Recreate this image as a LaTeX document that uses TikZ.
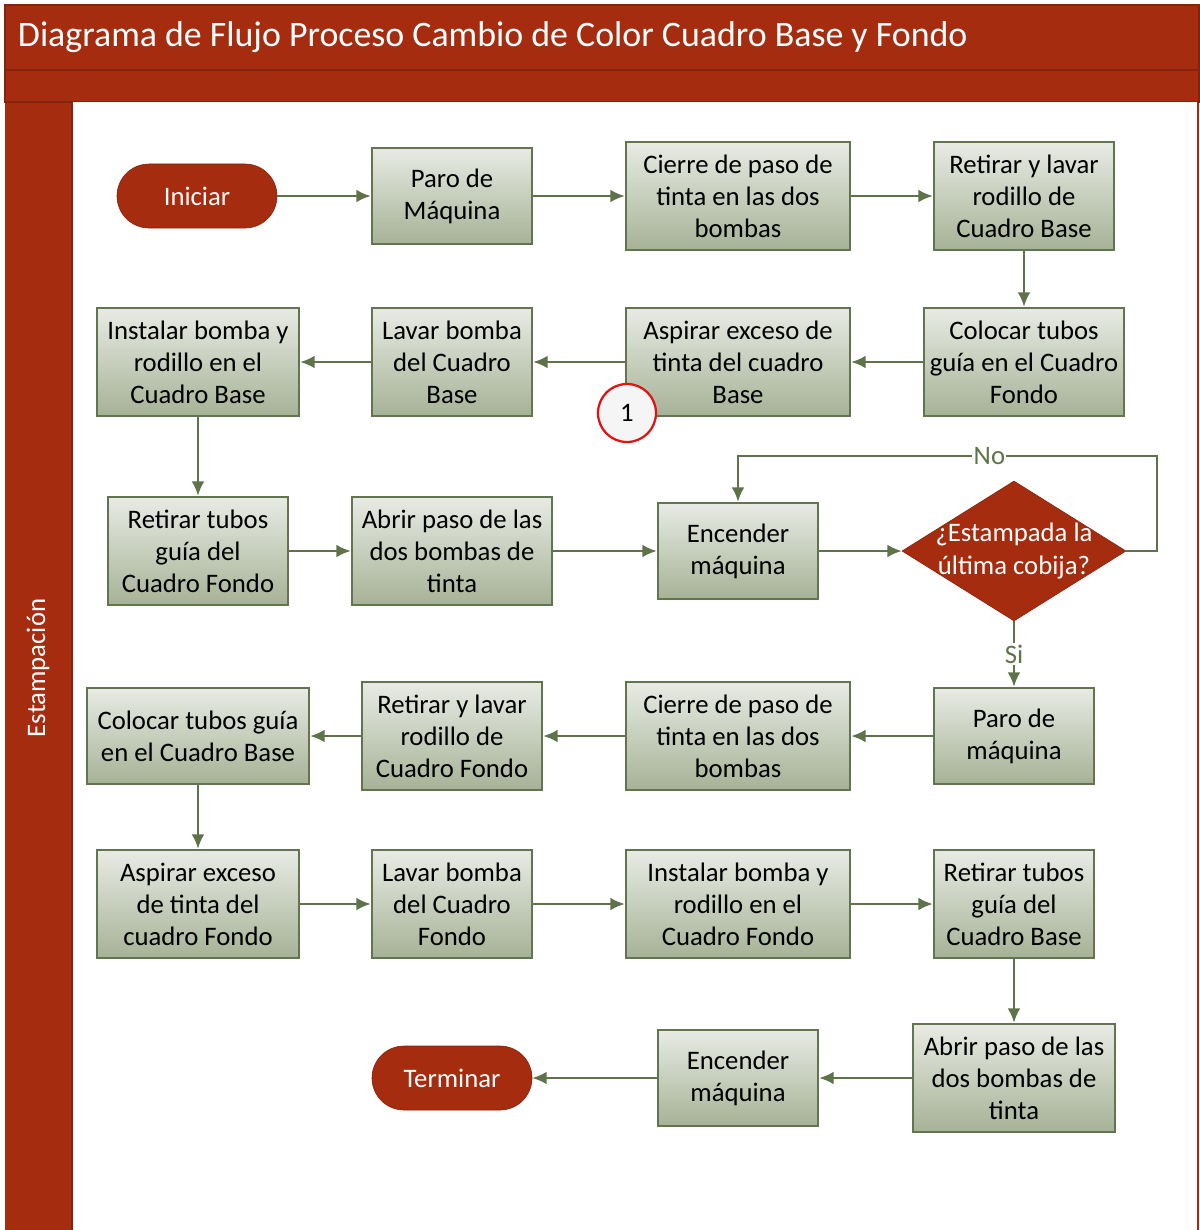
\documentclass[tikz,border=0pt]{standalone}
\usepackage{fontspec}
\setmainfont{Carlito}
\usetikzlibrary{shapes.geometric,arrows.meta}

\definecolor{lanered}{RGB}{165,44,15}
\definecolor{lanedark}{RGB}{135,34,12}
\definecolor{boxtop}{RGB}{232,235,228}
\definecolor{boxbot}{RGB}{166,178,150}
\definecolor{boxline}{RGB}{98,117,80}
\definecolor{flowgreen}{RGB}{94,115,74}
\definecolor{markred}{RGB}{228,18,18}

\begin{document}
\begin{tikzpicture}[x=0.025cm, y=-0.025cm, >={Latex[length=3.6mm,width=3.2mm]},
    every node/.style={font=\fontsize{19}{22.8}\selectfont},
    proc/.style={draw=boxline, line width=1.8pt, top color=boxtop, bottom color=boxbot,
                 align=center, inner sep=0pt, minimum width=4cm, minimum height=2.7cm},
    term/.style={draw=lanedark, fill=lanered, text=white, rounded corners=0.8cm,
                 minimum width=4cm, minimum height=1.6cm, inner sep=0pt},
    decide/.style={diamond, draw=lanedark, fill=lanered, inner sep=0pt,
                   minimum width=5.6cm, minimum height=3.5cm},
    flow/.style={->, draw=flowgreen, line width=1.5pt}]
    \useasboundingbox (0,0) rectangle (1199,1230);

    % pool and lane
    \fill[lanered] (5,5) rectangle (1199,1230);
    \draw[lanedark, line width=0.8pt] (5,5) rectangle (1199,70);
    \draw[lanedark, line width=0.8pt] (5,70) rectangle (1199,102);
    \fill[white] (72,102) rectangle (1197,1230);
    \draw[lanedark, line width=0.8pt] (72,102) -- (72,1230);
    \node (title) [anchor=west, text=white, font=\fontsize{25.5}{30}\selectfont] at (13,37)
          {Diagrama de Flujo Proceso Cambio de Color Cuadro Base y Fondo};
    \node (lane) [rotate=90, text=white] at (38,668) {Estampación};

    % row 1
    \node (ini)     [term] at (197,196) {Iniciar};
    \node (paro1)   [proc, minimum height=2.4cm] at (452,196) {Paro de\\Máquina};
    \node (cierre1) [proc, minimum width=5.6cm] at (738,196) {Cierre de paso de\\tinta en las dos\\bombas};
    \node (retlav1) [proc, minimum width=4.5cm] at (1024,196) {Retirar y lavar\\rodillo de\\Cuadro Base};
    % row 2
    \node (tubos1)  [proc, minimum width=5cm] at (1024,362) {Colocar tubos\\guía en el Cuadro\\Fondo};
    \node (aspira1) [proc, minimum width=5.6cm] at (738,362) {Aspirar exceso de\\tinta del cuadro\\Base};
    \node (lavbom1) [proc] at (452,362) {Lavar bomba\\del Cuadro\\Base};
    \node (instal1) [proc, minimum width=5.05cm] at (198,362) {Instalar bomba y\\rodillo en el\\Cuadro Base};
    \node (mark)    [circle, draw=markred, line width=1.6pt, fill=gray!8, minimum size=1.45cm,
                     inner sep=0pt] at (627,413) {1};
    % row 3
    \node (retub1)  [proc, minimum width=4.5cm] at (198,551) {Retirar tubos\\guía del\\Cuadro Fondo};
    \node (abre1)   [proc, minimum width=5cm] at (452,551) {Abrir paso de las\\dos bombas de\\tinta};
    \node (enc1)    [proc, minimum height=2.4cm] at (738,551) {Encender\\máquina};
    \node (dec)     [decide] at (1014,551) {};
    \node (dectext) [text=white, align=center] at (dec) {¿Estampada la\\última cobija?};
    \coordinate (noturn) at (1157,456);
    % row 4
    \node (paro2)   [proc, minimum height=2.4cm] at (1014,736) {Paro de\\máquina};
    \node (cierre2) [proc, minimum width=5.6cm] at (738,736) {Cierre de paso de\\tinta en las dos\\bombas};
    \node (retlav2) [proc, minimum width=4.5cm] at (452,736) {Retirar y lavar\\rodillo de\\Cuadro Fondo};
    \node (tubos2)  [proc, minimum width=5.55cm, minimum height=2.4cm] at (198,736) {Colocar tubos guía\\en el Cuadro Base};
    % row 5
    \node (aspira2) [proc, minimum width=5.05cm] at (198,904) {Aspirar exceso\\de tinta del\\cuadro Fondo};
    \node (lavbom2) [proc] at (452,904) {Lavar bomba\\del Cuadro\\Fondo};
    \node (instal2) [proc, minimum width=5.6cm] at (738,904) {Instalar bomba y\\rodillo en el\\Cuadro Fondo};
    \node (retub2)  [proc] at (1014,904) {Retirar tubos\\guía del\\Cuadro Base};
    % row 6
    \node (abre2)   [proc, minimum width=5.05cm] at (1014,1078) {Abrir paso de las\\dos bombas de\\tinta};
    \node (enc2)    [proc, minimum height=2.4cm] at (738,1078) {Encender\\máquina};
    \node (fin)     [term] at (452,1078) {Terminar};

    % connectors
    \draw[flow] (ini) -- (paro1);
    \draw[flow] (paro1) -- (cierre1);
    \draw[flow] (cierre1) -- (retlav1);
    \draw[flow] (retlav1) -- (tubos1);
    \draw[flow] (tubos1) -- (aspira1);
    \draw[flow] (aspira1) -- (lavbom1);
    \draw[flow] (lavbom1) -- (instal1);
    \draw[flow] (instal1) -- (retub1);
    \draw[flow] (retub1) -- (abre1);
    \draw[flow] (abre1) -- (enc1);
    \draw[flow] (enc1) -- (dec);
    \draw[flow] (dec.east) -| (noturn) -| node[pos=0.2, fill=white, inner sep=1pt, text=flowgreen] {No} (enc1.north);
    \draw[flow] (dec) -- node[fill=white, inner sep=1pt, text=flowgreen] {Si} (paro2);
    \draw[flow] (paro2) -- (cierre2);
    \draw[flow] (cierre2) -- (retlav2);
    \draw[flow] (retlav2) -- (tubos2);
    \draw[flow] (tubos2) -- (aspira2);
    \draw[flow] (aspira2) -- (lavbom2);
    \draw[flow] (lavbom2) -- (instal2);
    \draw[flow] (instal2) -- (retub2);
    \draw[flow] (retub2) -- (abre2);
    \draw[flow] (abre2) -- (enc2);
    \draw[flow] (enc2) -- (fin);
\end{tikzpicture}
\end{document}
